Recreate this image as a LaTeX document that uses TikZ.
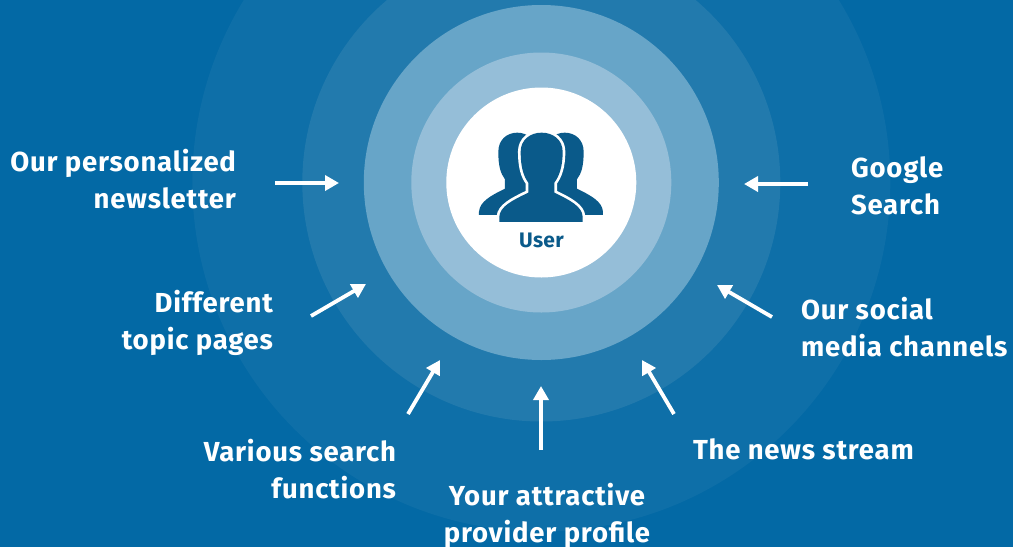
\documentclass[tikz,border=0pt]{standalone}
\usepackage{fontspec}
\setmainfont{Fira Sans}[LetterSpace=2.9]
\newfontfamily\userfont{Fira Sans}[LetterSpace=1.5]
\usetikzlibrary{arrows.meta}
\definecolor{bgblue}{HTML}{0369A5}
\definecolor{ringA}{HTML}{0E6FA8}
\definecolor{ringB}{HTML}{227AAD}
\definecolor{ringC}{HTML}{67A5C8}
\definecolor{ringD}{HTML}{95BED8}
\definecolor{iconblue}{HTML}{0A5A8A}
\tikzset{
  lbl/.style={text=white,font=\fontsize{27.5}{37}\selectfont\bfseries,inner sep=0pt,outer sep=0pt},
  ptr/.style={draw=white,line width=3.8pt,-{Triangle[length=14pt,width=15pt]},shorten >=0pt},
  fig/.style={fill=iconblue},
  figfront/.style={preaction={draw=white,line width=5.4pt,line join=round},fill=iconblue}
}
\begin{document}
\begin{tikzpicture}[x=1pt,y=-1pt]
\useasboundingbox (0,0) rectangle (1013,547);
\fill[bgblue] (0,0) rectangle (1013,547);
\begin{scope}
\clip (0,0) rectangle (1013,547);
\fill[ringA] (541.3,182.5) circle[radius=349pt];
\fill[ringB] (541.3,182.5) circle[radius=239pt];
\fill[ringC] (541.3,182.5) circle[radius=177.5pt];
\fill[ringD] (541.3,182.5) circle[radius=130pt];
\fill[white] (541.3,182.5) circle[radius=95pt];
\end{scope}
\begin{scope}[shift={(440,110)},x=0.3333pt,y=-0.3333pt]
\fill[fig] (117,315) -- (117,305) .. controls (120,275) and (150,258) .. (195,236) -- (195,208)
  .. controls (182,190) and (175,170) .. (175,125) .. controls (175,90) and (200,68) .. (232,68)
  .. controls (262,68) and (290,90) .. (290,125) -- (290,315) -- cycle;
\fill[fig] (489,315) -- (489,305) .. controls (486,275) and (456,258) .. (411,236) -- (411,208)
  .. controls (424,190) and (431,170) .. (431,125) .. controls (431,90) and (406,68) .. (374,68)
  .. controls (344,68) and (316,90) .. (316,125) -- (316,315) -- cycle;
\path[figfront] (178,336) -- (178,320) .. controls (180,290) and (215,272) .. (265,248) -- (265,218)
  .. controls (250,198) and (242,170) .. (242,125) .. controls (242,90) and (270,68) .. (305,68)
  .. controls (340,68) and (368,90) .. (368,125) .. controls (368,170) and (358,198) .. (343,218)
  -- (343,248) .. controls (393,272) and (426,290) .. (428,320) -- (428,336) -- cycle;
\end{scope}
\node[inner sep=0pt,text=iconblue,font=\userfont\fontsize{21}{24}\selectfont\bfseries,anchor=base] (user) at (541.5,247.5) {User};
\node[lbl,align=right,anchor=north east] (n1) at (236,149) {Our personalized\\newsletter};
\node[lbl,align=right,anchor=north east] (n2) at (273,290) {Different\\topic pages};
\node[lbl,align=right,anchor=north east] (n3) at (396,439) {Various search\\functions};
\node[lbl,align=center,anchor=north] (n4) at (547,483) {Your attractive\\provider profile};
\node[lbl,align=left,anchor=north west] (n5) at (693,439) {The news stream};
\node[lbl,align=left,anchor=north west] (n6) at (801,297) {Our social\\media channels};
\node[lbl,align=left,anchor=north west] (n7) at (851,157) {Google\\Search};
\coordinate (a1s) at (275,183); \coordinate (a1e) at (339,183);
\coordinate (a2s) at (311,316); \coordinate (a2e) at (366,284);
\coordinate (a3s) at (408,414); \coordinate (a3e) at (440,360);
\coordinate (a4s) at (541,450); \coordinate (a4e) at (541,386);
\coordinate (a5s) at (674,414); \coordinate (a5e) at (642,360);
\coordinate (a6s) at (772,317); \coordinate (a6e) at (717,285);
\coordinate (a7s) at (808,184); \coordinate (a7e) at (744,184);
\foreach \i in {1,...,7} \draw[ptr] (a\i s) -- (a\i e);
\end{tikzpicture}
\end{document}
